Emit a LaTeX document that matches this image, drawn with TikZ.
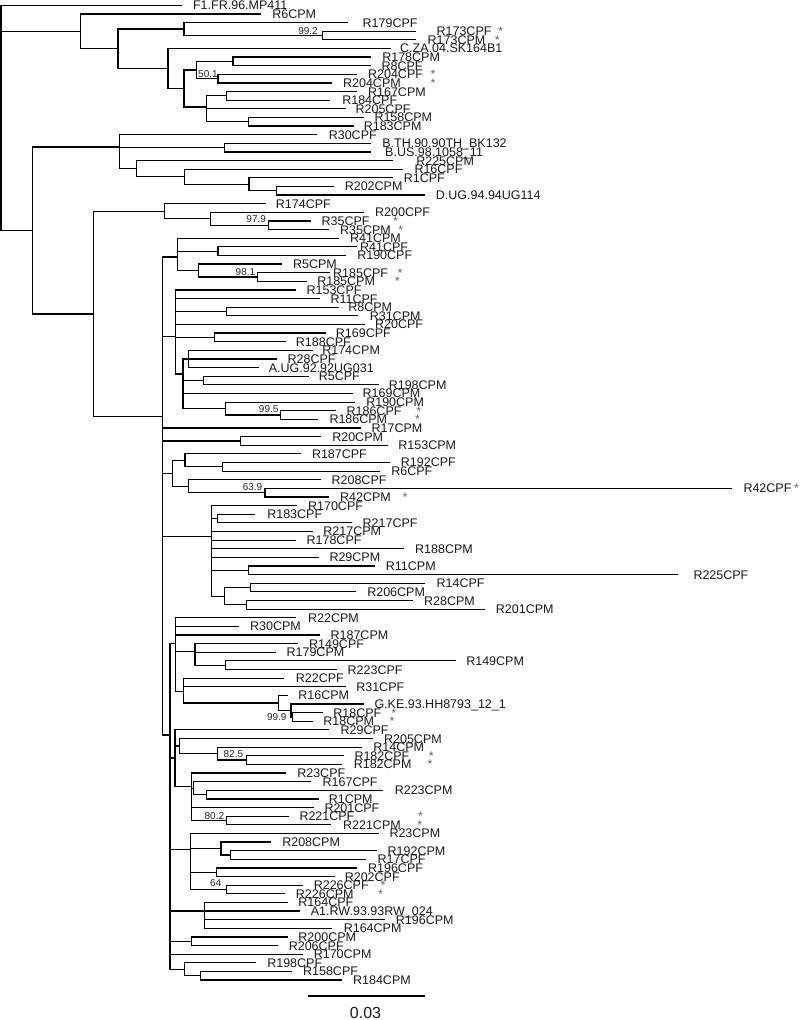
\documentclass[tikz,border=0pt]{standalone}
\usepackage{fontspec}
\setmainfont{Liberation Sans}
\newcommand\LY[1]{5.3+8.626*#1}
\tikzset{
  branch/.style={line width=1.2pt, black},
  lab/.style={anchor=west, inner sep=0pt, font=\fontsize{12.5}{14}\selectfont, text height=9pt, text depth=0pt, text=black!90},
  astx/.style={lab, text=black!60},
  boot/.style={anchor=east, inner sep=0pt, font=\fontsize{10}{12}\selectfont, text height=7.2pt, text depth=0pt, text=black!85},
  scalelab/.style={anchor=center, inner sep=0pt, font=\fontsize{16}{18}\selectfont, text=black!90},
}
\newcommand\leaf[5]{\coordinate (l#1) at (#2,{\LY{#1}}); \node[lab] (t#1) at (#3,{\LY{#1}}) {#4}; \draw[branch] (#5) |- (l#1);}
\newcommand\starmark[2]{\node[astx] (s#1) at (#2,{\LY{#1}}) {*};}
\newcommand\br[2]{\draw[branch] (#1) |- (#2);}
\begin{document}
\begin{tikzpicture}[x=1pt,y=-1pt]
\useasboundingbox (0,0) rectangle (800,1020);
% internal nodes
\coordinate (root) at (1,117);
\coordinate (A) at (80.4,31.3);
\coordinate (A2) at (117.9,48.7);
\coordinate (A3) at (183.9,29.02);
\coordinate (A4) at (322.5,35.49);
\coordinate (A5) at (167.9,68.5);
\coordinate (A6) at (183.9,88.5);
\coordinate (A7) at (196.4,70.0);
\coordinate (A9) at (232.9,61.37);
\coordinate (A10) at (217.9,78.62);
\coordinate (A8) at (206.4,107);
\coordinate (A11) at (226.8,95.88);
\coordinate (A12) at (248.2,121.75);
\coordinate (B) at (32.1,230.5);
\coordinate (B1) at (119.6,147);
\coordinate (B2) at (224.3,147.63);
\coordinate (B3) at (136.8,168.66);
\coordinate (B4) at (184.6,176.74);
\coordinate (B5) at (248.9,184.29);
\coordinate (B6) at (276.8,190.76);
\coordinate (C) at (93.6,313.95);
\coordinate (C1) at (164.3,211.25);
\coordinate (C2) at (210.7,218.8);
\coordinate (C3) at (268.6,225.27);
\coordinate (C4) at (162.5,416.7);
\coordinate (D1) at (177.5,257);
\coordinate (D2) at (217.9,251.14);
\coordinate (D3) at (198.2,270.55);
\coordinate (D4) at (257.1,277.02);
\coordinate (D5) at (175.7,336.7);
\coordinate (D6) at (226.8,311.53);
\coordinate (D7) at (214.3,337.4);
\coordinate (D8) at (182.9,374);
\coordinate (D9) at (188.5,358.97);
\coordinate (D10) at (203.3,380.53);
\coordinate (D11) at (225.8,408.57);
\coordinate (D12) at (280.4,415.04);
\coordinate (D13) at (240.4,440.92);
\coordinate (D14) at (172.5,473.26);
\coordinate (D15) at (185,460.32);
\coordinate (D16) at (222.1,466.79);
\coordinate (D17) at (188.2,486.2);
\coordinate (D18) at (265,492.67);
\coordinate (D19) at (211.8,536.7);
\coordinate (D20) at (217.1,518.55);
\coordinate (D21) at (248.2,570.31);
\coordinate (D22) at (224.3,596.18);
\coordinate (D23) at (250.7,587.56);
\coordinate (D24) at (246.4,604.81);
\coordinate (E) at (170,735);
\coordinate (E1) at (175.7,643.3);
\coordinate (E3) at (195,651.7);
\coordinate (E4) at (225.7,665.19);
\coordinate (E5) at (183.3,691.7);
\coordinate (E6) at (278.5,702.93);
\coordinate (E7) at (291,710.48);
\coordinate (E8) at (292.8,716.95);
\coordinate (F) at (175,758);
\coordinate (F1) at (179.3,746.06);
\coordinate (F2) at (217.3,753.61);
\coordinate (F3) at (246.4,760.08);
\coordinate (F4) at (191.7,786.7);
\coordinate (F5) at (193.5,788.11);
\coordinate (F6) at (206.7,794.58);
\coordinate (F7) at (226.7,820.46);
\coordinate (G) at (190.7,849.3);
\coordinate (G1) at (221,848.49);
\coordinate (G2) at (230.7,854.96);
\coordinate (G3) at (216.7,872.22);
\coordinate (G4) at (226.7,889.47);
\coordinate (H) at (204.3,911);
\coordinate (I) at (191.1,941.22);
\coordinate (J) at (184.6,969.26);
\coordinate (J1) at (200.7,975.73);
% internal branches
\br{root}{A} \br{root}{B}
\br{A}{A2} \br{A2}{A3} \br{A2}{A5} \br{A3}{A4} \br{A5}{A6}
\br{A6}{A7} \br{A6}{A8} \br{A7}{A9} \br{A7}{A10} \br{A8}{A11} \br{A8}{A12}
\br{B}{B1} \br{B}{C} \br{B1}{B2} \br{B1}{B3} \br{B3}{B4} \br{B4}{B5} \br{B5}{B6}
\br{C}{C1} \br{C}{C4} \br{C1}{C2} \br{C2}{C3}
\br{C4}{D1} \br{C4}{D5} \br{C4}{D13} \br{C4}{D14} \br{C4}{D19} \br{C4}{E}
\br{D1}{D2} \br{D1}{D3} \br{D3}{D4}
\br{D5}{D6} \br{D5}{D7} \br{D5}{D8} \br{D8}{D9} \br{D8}{D10} \br{D8}{D11} \br{D11}{D12}
\br{D14}{D15} \br{D14}{D17} \br{D15}{D16} \br{D17}{D18}
\br{D19}{D20} \br{D19}{D21} \br{D19}{D22} \br{D22}{D23} \br{D22}{D24}
\br{E}{E1} \br{E}{F} \br{E}{G} \br{E}{H} \br{E}{I} \br{E}{J}
\br{E1}{E3} \br{E1}{E5} \br{E3}{E4} \br{E5}{E6} \br{E6}{E7} \br{E7}{E8}
\br{F}{F1} \br{F}{F4} \br{F1}{F2} \br{F2}{F3} \br{F4}{F5} \br{F4}{F7} \br{F5}{F6}
\br{G}{G1} \br{G}{G3} \br{G}{G4} \br{G1}{G2}
\br{J}{J1}
% leaves
\leaf{0}{182.1}{192.9}{F1.FR.96.MP411}{root}
\leaf{1}{260.7}{272.1}{R6CPM}{A}
\leaf{2}{348.2}{362.5}{R179CPF}{A3}
\leaf{3}{416.1}{436.4}{R173CPF}{A4}
\leaf{4}{416.1}{427.5}{R173CPM}{A4}
\leaf{5}{391.1}{400}{C.ZA.04.SK164B1}{A5}
\leaf{6}{371.4}{382.1}{R178CPM}{A9}
\leaf{7}{371.4}{381.4}{R8CPF}{A9}
\leaf{8}{357.1}{367.9}{R204CPF}{A10}
\leaf{9}{332.1}{342.9}{R204CPM}{A10}
\leaf{10}{357.1}{367.9}{R167CPM}{A11}
\leaf{11}{330.4}{342.1}{R184CPF}{A11}
\leaf{12}{345.7}{355.4}{R205CPF}{A8}
\leaf{13}{364.3}{374.3}{R158CPM}{A12}
\leaf{14}{353.6}{363.6}{R183CPM}{A12}
\leaf{15}{317.1}{328.6}{R30CPF}{B1}
\leaf{16}{371.4}{382.1}{B.TH.90.90TH\_BK132}{B2}
\leaf{17}{371.4}{385}{B.US.98.1058\_11}{B2}
\leaf{18}{392.9}{416.1}{R225CPM}{B3}
\leaf{19}{402.5}{414.3}{R16CPF}{B4}
\leaf{20}{392.9}{403.6}{R1CPF}{B5}
\leaf{21}{333.9}{344.6}{R202CPM}{B6}
\leaf{22}{425}{435.7}{D.UG.94.94UG114}{B6}
\leaf{23}{266.1}{275.7}{R174CPF}{C1}
\leaf{24}{363.6}{375}{R200CPF}{C2}
\leaf{25}{310.7}{321.4}{R35CPF}{C3}
\leaf{26}{329.3}{340}{R35CPM}{C3}
\leaf{27}{338.6}{350}{R41CPM}{D1}
\leaf{28}{357.1}{360}{R41CPF}{D2}
\leaf{29}{345.7}{357.1}{R190CPF}{D2}
\leaf{30}{282.1}{292.9}{R5CPM}{D3}
\leaf{31}{330.4}{333}{R185CPF}{D4}
\leaf{32}{307.1}{317.1}{R185CPM}{D4}
\leaf{33}{296.4}{306.4}{R153CPF}{D5}
\leaf{34}{319.6}{330.4}{R11CPF}{D5}
\leaf{35}{338.6}{348.2}{R8CPM}{D6}
\leaf{36}{358.2}{369.6}{R31CPM}{D6}
\leaf{37}{365}{375}{R20CPF}{D5}
\leaf{38}{325.7}{335.7}{R169CPF}{D7}
\leaf{39}{285.7}{295.7}{R188CPF}{D7}
\leaf{40}{312.5}{322.1}{R174CPM}{D9}
\leaf{41}{276.8}{287.5}{R28CPF}{D9}
\leaf{42}{258.9}{268.6}{A.UG.92.92UG031}{D9}
\leaf{43}{308.9}{318.6}{R5CPF}{D10}
\leaf{44}{378.6}{388.6}{R198CPM}{D10}
\leaf{45}{352.9}{362.5}{R169CPM}{D8}
\leaf{46}{355.4}{366.1}{R190CPM}{D11}
\leaf{47}{335.7}{346.4}{R186CPF}{D12}
\leaf{48}{317.9}{329.3}{R186CPM}{D12}
\leaf{49}{361.4}{371.4}{R17CPM}{C4}
\leaf{50}{321.4}{332.1}{R20CPM}{D13}
\leaf{51}{387.5}{398.2}{R153CPM}{D13}
\leaf{52}{301.1}{311.8}{R187CPF}{D15}
\leaf{53}{390}{400.7}{R192CPF}{D16}
\leaf{54}{380.4}{391.1}{R6CPF}{D16}
\leaf{55}{320.7}{331.4}{R208CPF}{D17}
\leaf{56}{731.7}{743.3}{R42CPF}{D18}
\leaf{57}{329.3}{340}{R42CPM}{D18}
\leaf{58}{297.1}{307.9}{R170CPF}{D19}
\leaf{59}{255.4}{267.1}{R183CPF}{D20}
\leaf{60}{351.8}{362.5}{R217CPF}{D20}
\leaf{61}{312.5}{323.2}{R217CPM}{D19}
\leaf{62}{295.7}{306.4}{R178CPF}{D19}
\leaf{63}{403.6}{415}{R188CPM}{D19}
\leaf{64}{318.6}{329.3}{R29CPM}{D19}
\leaf{65}{375}{385.7}{R11CPM}{D21}
\leaf{66}{678.3}{693.3}{R225CPF}{D21}
\leaf{67}{425}{436.4}{R14CPF}{D23}
\leaf{68}{356.4}{367.1}{R206CPM}{D23}
\leaf{69}{412.5}{423.9}{R28CPM}{D24}
\leaf{70}{484.6}{495.7}{R201CPM}{D24}
\leaf{71}{296.4}{307.9}{R22CPM}{E1}
\leaf{72}{239.3}{250}{R30CPM}{E1}
\leaf{73}{319.6}{330.4}{R187CPM}{E1}
\leaf{74}{298.2}{308.9}{R149CPF}{E3}
\leaf{75}{275.5}{286.4}{R179CPM}{E3}
\leaf{76}{456.1}{466.1}{R149CPM}{E4}
\leaf{77}{336.8}{347.5}{R223CPF}{E4}
\leaf{78}{284}{295.7}{R22CPF}{E5}
\leaf{79}{345.7}{356.1}{R31CPF}{E5}
\leaf{80}{288}{298.2}{R16CPM}{E6}
\leaf{81}{363.6}{374.3}{G.KE.93.HH8793\_12\_1}{E7}
\leaf{82}{322.5}{333.2}{R18CPF}{E8}
\leaf{83}{312.5}{323.2}{R18CPM}{E8}
\leaf{84}{328.6}{340.4}{R29CPF}{F}
\leaf{85}{372.5}{383.9}{R205CPM}{F1}
\leaf{86}{362}{373.2}{R14CPM}{F2}
\leaf{87}{343.6}{354.3}{R182CPF}{F3}
\leaf{88}{342.1}{353.6}{R182CPM}{F3}
\leaf{89}{285.7}{297.1}{R23CPF}{F4}
\leaf{90}{311.4}{322.5}{R167CPF}{F5}
\leaf{91}{382.9}{394.6}{R223CPM}{F6}
\leaf{92}{318.9}{328.6}{R1CPM}{F6}
\leaf{93}{313.6}{324.3}{R201CPF}{F4}
\leaf{94}{288.6}{299.3}{R221CPF}{F7}
\leaf{95}{331.4}{342.9}{R221CPM}{F7}
\leaf{96}{379.3}{389.3}{R23CPM}{G}
\leaf{97}{270.7}{282.1}{R208CPM}{G1}
\leaf{98}{376.8}{387.5}{R192CPM}{G2}
\leaf{99}{366.1}{377.5}{R17CPF}{G2}
\leaf{100}{357.1}{367.9}{R196CPF}{G3}
\leaf{101}{335}{344.6}{R202CPF}{G3}
\leaf{102}{302.9}{313.6}{R226CPF}{G4}
\leaf{103}{284.6}{295.7}{R226CPM}{G4}
\leaf{104}{287.5}{298.2}{R164CPF}{H}
\leaf{105}{300}{310.7}{A1.RW.93.93RW\_024}{H}
\leaf{106}{385}{395.7}{R196CPM}{H}
\leaf{107}{332.1}{343.6}{R164CPM}{H}
\leaf{108}{287.5}{298.2}{R200CPM}{I}
\leaf{109}{277.9}{288.6}{R206CPF}{I}
\leaf{110}{302.9}{313.6}{R170CPM}{E}
\leaf{111}{256.4}{267.1}{R198CPF}{J}
\leaf{112}{292.1}{302.9}{R158CPF}{J1}
\leaf{113}{342.1}{352.9}{R184CPM}{J1}
% asterisks
\starmark{3}{498.2} \starmark{4}{494.6}
\starmark{8}{430.4} \starmark{9}{430.4}
\starmark{25}{392.9} \starmark{26}{398.2}
\starmark{31}{397.5} \starmark{32}{394.6}
\starmark{47}{416.1} \starmark{48}{415}
\starmark{56}{794} \starmark{57}{402.5}
\starmark{82}{391.1} \starmark{83}{389.3}
\starmark{87}{428.6} \starmark{88}{427.5}
\starmark{94}{417.9} \starmark{95}{417.1}
\starmark{102}{380.4} \starmark{103}{377.9}
% bootstrap values
\node[boot] (b1) at (318,31) {99.2};
\node[boot] (b2) at (217.9,74) {50.1};
\node[boot] (b3) at (266.1,219.3) {97.9};
\node[boot] (b4) at (255.4,271.7) {98.1};
\node[boot] (b5) at (278.6,409.3) {99.5};
\node[boot] (b6) at (262.5,487.3) {63.9};
\node[boot] (b7) at (286.7,717.3) {99.9};
\node[boot] (b8) at (243.3,754) {82.5};
\node[boot] (b9) at (224.3,816) {80.2};
\node[boot] (b10) at (221.4,883.3) {64};
% scale bar
\coordinate (sb1) at (307.9,996);
\coordinate (sb2) at (425,996);
\draw[branch] (sb1) -- (sb2);
\node[scalelab] (sbl) at (365.5,1013) {0.03};
\end{tikzpicture}
\end{document}
